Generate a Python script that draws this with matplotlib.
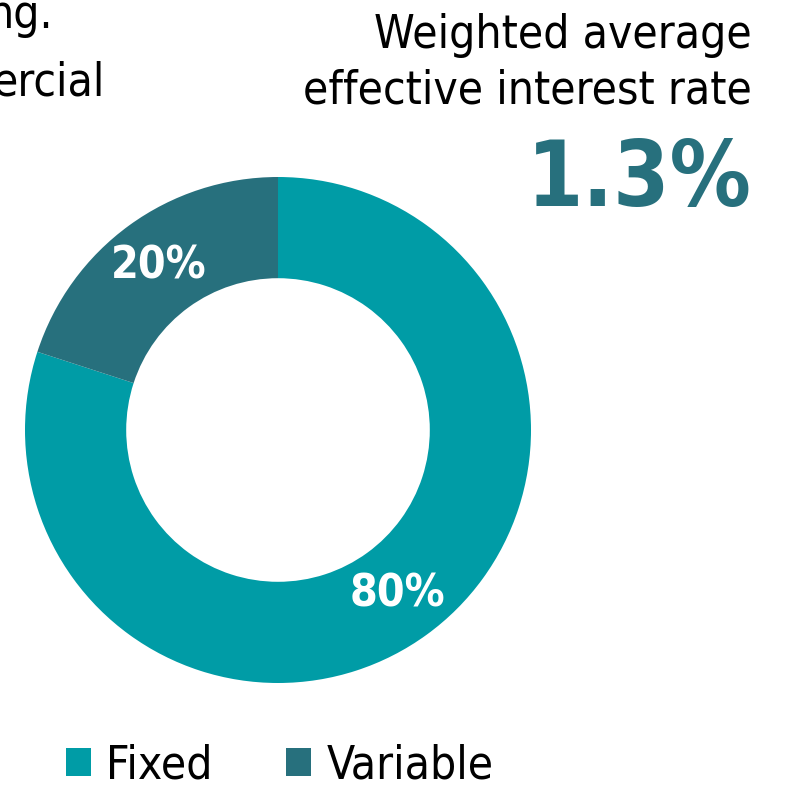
import matplotlib
matplotlib.use("Agg")
import matplotlib.pyplot as plt

labels = ["Fixed", "Variable"]
shares = [80, 20]
colors = ["#009ca6", "#27707d"]
title_lines = ["Weighted average", "effective interest rate"]
rate_text = "1.3%"
cut_text = ["ng.", "ercial"]

W, H = 785, 786
plt.rcParams['font.family'] = ['DejaVu Sans']
plt.rcParams['font.stretch'] = 'condensed'

fig = plt.figure(figsize=(W / 100, H / 100), dpi=100)

def fx(x):
    return x / W

def fy(y):
    return 1 - y / H

# donut: center (278, 430), outer radius 253 px
cx, cy, r = 278, 430, 253
ax = fig.add_axes([fx(cx - r), fy(cy + r), 2 * r / W, 2 * r / H])
wedges, _, autotexts = ax.pie(
    shares, colors=colors, startangle=90, counterclock=False,
    radius=1, autopct=lambda p: f"{p:.0f}%", pctdistance=0.8,
    wedgeprops=dict(width=0.4, edgecolor="none"),
    textprops=dict(color="white", fontsize=32, fontweight="bold"))
ax.set_xlim(-1, 1)
ax.set_ylim(-1, 1)
ax.set_aspect("equal")
ax.axis("off")

# right-hand title
fig.text(fx(752), fy(48), title_lines[0], ha="right", va="baseline", fontsize=33)
fig.text(fx(752), fy(104), title_lines[1], ha="right", va="baseline", fontsize=33)
fig.text(fx(752), fy(206), rate_text, ha="right", va="baseline", fontsize=65,
         fontweight="bold", color="#27707d")

# text cut off at the left edge
fig.text(fx(53), fy(28), cut_text[0], ha="right", va="baseline", fontsize=33)
fig.text(fx(105), fy(95), cut_text[1], ha="right", va="baseline", fontsize=33)

fig.legend(wedges, labels, loc="center left", bbox_to_anchor=(fx(66), fy(766)),
           ncol=2, frameon=False, fontsize=33, handlelength=0.55, handleheight=0.55,
           handletextpad=0.33, columnspacing=1.6, borderpad=0, borderaxespad=0)

fig.savefig("out.png", dpi=100)
